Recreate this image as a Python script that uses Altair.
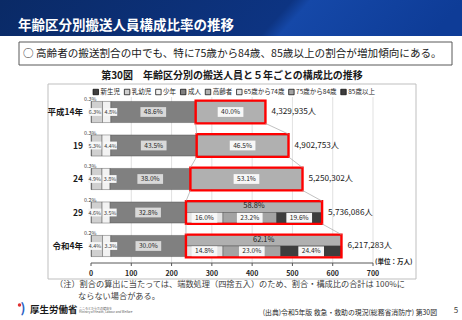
import altair as alt
import pandas as pd

# ---------------- data ----------------
years = ["平成14年", "19", "24", "29", "令和4年"]
totals = [4329935, 4902753, 5250302, 5736086, 6217283]          # 人
pct_neonate = [0.3, 0.3, 0.3, 0.2, 0.2]
pct_infant = [6.3, 5.3, 4.9, 4.6, 4.4]
pct_youth = [4.8, 4.4, 3.8, 3.5, 3.3]
pct_adult = [48.6, 43.5, 38.0, 32.8, 30.0]
pct_elderly = [40.0, 46.5, 53.1, 58.8, 62.1]
pct_65_74 = [None, None, None, 16.0, 14.8]
pct_75_84 = [None, None, None, 23.2, 23.0]
pct_85_up = [None, None, None, 19.6, 24.4]
x_ticks = [0, 100, 200, 300, 400, 500, 600, 700]
categories = ["新生児", "乳幼児", "少年", "成人", "高齢者", "65歳から74歳", "75歳から84歳", "85歳以上"]
cat_colors = ["#3f3f3f", "#d0d0d0", "#f2f2f2", "#808080", "#b0b0b0", "#e3e3e3", "#a3a3a3", "#3d3d3d"]

# ---------------- layout ----------------
FONT = "Noto Sans CJK JP"
xs = alt.Scale(domain=[0, 700], range=[91, 373], nice=False, zero=False)
ys = alt.Scale(domain=[0, 4], range=[112, 246], nice=False, zero=False)
cs = alt.Scale(domain=categories, range=cat_colors)
H = 0.315   # bar half height (row units)
HB = 0.34   # red frame half height

# legend laid out left to right from estimated label widths
LEG_FS = 6.5
LEG_X0, LEG_Y, LEG_SYM, LEG_GAP = 93, 92, 7.5, 4.3
def text_em(s):
    return sum(0.55 if c.isascii() else 1.0 for c in s)
legend_px = []
_x = LEG_X0
for c in categories:
    legend_px.append(_x)
    _x += LEG_SYM + text_em(c) * LEG_FS + LEG_GAP

seg_rows, lab_rows, tot_rows, red_rows = [], [], [], []
small_kinds = {"新生児": "tiny", "乳幼児": "small_l", "少年": "small_r", "成人": "adult"}
for i, yr in enumerate(years):
    tot = totals[i] / 10000
    parts = [("新生児", pct_neonate[i]), ("乳幼児", pct_infant[i]),
             ("少年", pct_youth[i]), ("成人", pct_adult[i])]
    cum = 0.0
    for cat, p in parts:
        x0 = tot * cum / 100
        x1 = tot * (cum + p) / 100
        seg_rows.append(dict(row=i, cat=cat, x=x0, x2=x1, y=i - H, y2=i + H))
        lab_rows.append(dict(row=i, cat=cat, kind=small_kinds[cat], xc=(x0 + x1) / 2,
                             yc=(i - H) if cat == "新生児" else i, text=f"{p:.1f}%"))
        cum += p
    es = tot * cum / 100
    red_rows.append(dict(row=i, x=es, x2=tot, y=i - HB, y2=i + HB))
    if pct_65_74[i] is not None:
        seg_rows.append(dict(row=i, cat="高齢者", x=es, x2=tot, y=i - H, y2=i))
        lab_rows.append(dict(row=i, cat="高齢者", kind="top", xc=(es + tot) / 2,
                             yc=i - H / 2, text=f"{pct_elderly[i]:.1f}%"))
        c2 = 0.0
        for cat, p in [("65歳から74歳", pct_65_74[i]), ("75歳から84歳", pct_75_84[i]),
                       ("85歳以上", pct_85_up[i])]:
            x0 = es + tot * c2 / 100
            x1 = es + tot * (c2 + p) / 100
            seg_rows.append(dict(row=i, cat=cat, x=x0, x2=x1, y=i, y2=i + H))
            lab_rows.append(dict(row=i, cat=cat, kind="sub", xc=(x0 + x1) / 2,
                                 yc=i + H / 2, text=f"{p:.1f}%"))
            c2 += p
    else:
        seg_rows.append(dict(row=i, cat="高齢者", x=es, x2=tot, y=i - H, y2=i + H))
        lab_rows.append(dict(row=i, cat="高齢者", kind="big", xc=(es + tot) / 2,
                             yc=i, text=f"{pct_elderly[i]:.1f}%"))
    tot_rows.append(dict(row=i, x=tot, text=f"{totals[i]:,}人"))

segs = pd.DataFrame(seg_rows)
labs = pd.DataFrame(lab_rows)
tots = pd.DataFrame(tot_rows)
reds = pd.DataFrame(red_rows)

con_rows = []
for i in range(len(years) - 1):
    a, b = red_rows[i], red_rows[i + 1]
    con_rows.append(dict(x=a["x"], x2=b["x"], y=i + HB, y2=i + 1 - HB))
    con_rows.append(dict(x=a["x2"], x2=b["x2"], y=i + HB, y2=i + 1 - HB))
cons = pd.DataFrame(con_rows)
ticks = pd.DataFrame({"t": x_ticks, "lab": [str(v) for v in x_ticks]})
grid = ticks[ticks.t > 0]
axis_span = pd.DataFrame({"a": [min(x_ticks)], "b": [max(x_ticks)]})
ylabs = pd.DataFrame({"row": list(range(len(years))), "yr": years})
leg = pd.DataFrame({"cat": categories, "px": legend_px})
one = pd.DataFrame({"a": [0]})
px_scale = alt.Scale(domain=[0, 462], range=[0, 462], nice=False, zero=False)

# ---------------- decorations ----------------
grad = alt.LinearGradient(
    gradient="linear", x1=0, y1=0, x2=1, y2=0.07,
    stops=[alt.GradientStop(color="#0a2a66", offset=0),
           alt.GradientStop(color="#0d3482", offset=0.63),
           alt.GradientStop(color="#1548a8", offset=0.67),
           alt.GradientStop(color="#0e3c97", offset=1)])
banner = alt.Chart(one).mark_rect(fill=grad).encode(
    x=alt.value(0), x2=alt.value(462), y=alt.value(0), y2=alt.value(36))
banner_txt = alt.Chart(one).mark_text(
    text="年齢区分別搬送人員構成比率の推移", align="left", baseline="middle",
    color="white", font=FONT, fontSize=13.5, fontWeight="bold").encode(
    x=alt.value(18), y=alt.value(26))
box = alt.Chart(one).mark_rect(fillOpacity=0, stroke="#595959", strokeWidth=1).encode(
    x=alt.value(19), x2=alt.value(452), y=alt.value(42), y2=alt.value(65))
box_txt = alt.Chart(one).mark_text(
    text="○ 高齢者の搬送割合の中でも、特に75歳から84歳、85歳以上の割合が増加傾向にある。",
    align="left", baseline="middle", color="#1a1a1a", font=FONT, fontSize=10.6).encode(
    x=alt.value(23), y=alt.value(53.5))
chart_title = alt.Chart(one).mark_text(
    text="第30図　年齢区分別の搬送人員と５年ごとの構成比の推移", align="center",
    baseline="middle", color="#1a1a1a", font=FONT, fontSize=10, fontWeight="bold").encode(
    x=alt.value(232), y=alt.value(75.5))
frame = alt.Chart(one).mark_rect(fillOpacity=0, stroke="#bfbfbf", strokeWidth=1).encode(
    x=alt.value(48), x2=alt.value(416), y=alt.value(84), y2=alt.value(279))

# manual legend
leg_sym = alt.Chart(leg).mark_square(size=30, opacity=1, stroke="#000000", strokeWidth=0.7).encode(
    x=alt.X("px:Q", scale=px_scale, axis=None), y=alt.value(LEG_Y),
    color=alt.Color("cat:N", scale=cs, legend=None), xOffset=alt.value(2.8))
leg_txt = alt.Chart(leg).mark_text(
    align="left", baseline="middle", font=FONT, fontSize=LEG_FS, color="#262626",
    dx=LEG_SYM).encode(
    x=alt.X("px:Q", scale=px_scale, axis=None), y=alt.value(LEG_Y), text="cat:N")

gridlines = alt.Chart(grid).mark_rule(color="#d9d9d9", strokeWidth=0.8).encode(
    x=alt.X("t:Q", scale=xs, axis=None), y=alt.value(97), y2=alt.value(263))
axis_line = alt.Chart(axis_span).mark_rule(color="#595959", strokeWidth=1).encode(
    x=alt.X("a:Q", scale=xs, axis=None), x2="b:Q", y=alt.value(263))
axis_ticks = alt.Chart(ticks).mark_rule(color="#595959", strokeWidth=1).encode(
    x=alt.X("t:Q", scale=xs, axis=None), y=alt.value(263), y2=alt.value(266))
axis_labs = alt.Chart(ticks).mark_text(
    font=FONT, fontSize=7, fontWeight="bold", color="#262626", baseline="middle").encode(
    x=alt.X("t:Q", scale=xs, axis=None), y=alt.value(274), text="lab:N")
unit_txt = alt.Chart(one).mark_text(
    text="(単位：万人)", align="left", baseline="middle", font=FONT, fontSize=6.5,
    fontWeight="bold", color="#262626").encode(x=alt.value(375), y=alt.value(262))

# ---------------- bars ----------------
bars = alt.Chart(segs).mark_rect(stroke="#404040", strokeWidth=0.4).encode(
    x=alt.X("x:Q", scale=xs, axis=None), x2="x2:Q",
    y=alt.Y("y:Q", scale=ys, axis=None), y2="y2:Q",
    color=alt.Color("cat:N", scale=cs, legend=None))
red_frames = alt.Chart(reds).mark_rect(fillOpacity=0, stroke="#ff0000", strokeWidth=2.4).encode(
    x=alt.X("x:Q", scale=xs, axis=None), x2="x2:Q",
    y=alt.Y("y:Q", scale=ys, axis=None), y2="y2:Q")
connectors = alt.Chart(cons).mark_rule(color="#a6a6a6", strokeWidth=0.7).encode(
    x=alt.X("x:Q", scale=xs, axis=None), x2="x2:Q",
    y=alt.Y("y:Q", scale=ys, axis=None), y2="y2:Q")

BIG_BOX = "M-1,-0.38H1V0.38H-1Z"
SMALL_BOX = "M-1,-0.6H1V0.6H-1Z"
big_lab = alt.Chart(labs).transform_filter(
    "datum.kind == 'adult' || datum.kind == 'big' || datum.kind == 'sub'")
big_boxes = big_lab.mark_point(shape=BIG_BOX, size=660, filled=True, opacity=1,
                               strokeWidth=0).encode(
    x=alt.X("xc:Q", scale=xs, axis=None), y=alt.Y("yc:Q", scale=ys, axis=None),
    color=alt.condition("datum.kind == 'adult'", alt.value("#d9d9d9"), alt.value("#f7f7f7")))
big_texts = big_lab.mark_text(font=FONT, fontSize=6.6, color="#262626", baseline="middle").encode(
    x=alt.X("xc:Q", scale=xs, axis=None), y=alt.Y("yc:Q", scale=ys, axis=None), text="text:N")

small_boxes_l = alt.Chart(labs).transform_filter("datum.kind == 'small_l'").mark_point(
    shape=SMALL_BOX, size=170, filled=True, opacity=1, strokeWidth=0, color="#f7f7f7",
    xOffset=-2).encode(x=alt.X("xc:Q", scale=xs, axis=None), y=alt.Y("yc:Q", scale=ys, axis=None))
small_texts_l = alt.Chart(labs).transform_filter("datum.kind == 'small_l'").mark_text(
    font=FONT, fontSize=5.4, color="#404040", baseline="middle", dx=-2).encode(
    x=alt.X("xc:Q", scale=xs, axis=None), y=alt.Y("yc:Q", scale=ys, axis=None), text="text:N")
small_boxes_r = alt.Chart(labs).transform_filter("datum.kind == 'small_r'").mark_point(
    shape=SMALL_BOX, size=170, filled=True, opacity=1, strokeWidth=0, color="#f7f7f7",
    xOffset=4).encode(x=alt.X("xc:Q", scale=xs, axis=None), y=alt.Y("yc:Q", scale=ys, axis=None))
small_texts_r = alt.Chart(labs).transform_filter("datum.kind == 'small_r'").mark_text(
    font=FONT, fontSize=5.4, color="#404040", baseline="middle", dx=4).encode(
    x=alt.X("xc:Q", scale=xs, axis=None), y=alt.Y("yc:Q", scale=ys, axis=None), text="text:N")
tiny_txt = alt.Chart(labs).transform_filter("datum.kind == 'tiny'").mark_text(
    font=FONT, fontSize=5.4, color="#404040", baseline="bottom", dx=-1, dy=1).encode(
    x=alt.X("xc:Q", scale=xs, axis=None), y=alt.Y("yc:Q", scale=ys, axis=None), text="text:N")
top_txt = alt.Chart(labs).transform_filter("datum.kind == 'top'").mark_text(
    font=FONT, fontSize=7.5, color="#1a1a1a", baseline="middle", dy=-1).encode(
    x=alt.X("xc:Q", scale=xs, axis=None), y=alt.Y("yc:Q", scale=ys, axis=None), text="text:N")
tot_txt = alt.Chart(tots).mark_text(
    font=FONT, fontSize=8.2, color="#1a1a1a", align="left", baseline="middle", dx=6).encode(
    x=alt.X("x:Q", scale=xs, axis=None), y=alt.Y("row:Q", scale=ys, axis=None), text="text:N")
year_txt = alt.Chart(ylabs).mark_text(
    font=FONT, fontSize=8.5, fontWeight="bold", color="#1a1a1a", align="right",
    baseline="middle").encode(
    x=alt.value(83), y=alt.Y("row:Q", scale=ys, axis=None), text="yr:N")

# ---------------- footer ----------------
note1 = alt.Chart(one).mark_text(
    text="（注）割合の算出に当たっては、端数処理（四捨五入）のため、割合・構成比の合計は 100%に",
    align="left", baseline="middle", font=FONT, fontSize=8.2, color="#404040").encode(
    x=alt.value(55), y=alt.value(284.5))
note2 = alt.Chart(one).mark_text(
    text="ならない場合がある。", align="left", baseline="middle", font=FONT, fontSize=8.2,
    color="#404040").encode(x=alt.value(78), y=alt.value(297))
logo_sym = alt.Chart(one).mark_text(
    text=")", align="center", baseline="middle", font=FONT, fontSize=13, fontWeight="bold",
    color="#2a62c4").encode(x=alt.value(23), y=alt.value(309))
logo_dot = alt.Chart(one).mark_point(filled=True, size=12, opacity=1, color="#e03030").encode(
    x=alt.value(19.5), y=alt.value(305))
logo_txt = alt.Chart(one).mark_text(
    text="厚生労働省", align="left", baseline="middle", font=FONT, fontSize=9.5,
    fontWeight="bold", color="#1a1a1a").encode(x=alt.value(30), y=alt.value(310))
logo_en1 = alt.Chart(one).mark_text(
    text="こころとからだの健康を", align="left", baseline="middle", font=FONT, fontSize=3,
    color="#595959").encode(x=alt.value(79), y=alt.value(308.5))
logo_en2 = alt.Chart(one).mark_text(
    text="Ministry of Health, Labour and Welfare", align="left", baseline="middle",
    font=FONT, fontSize=3, color="#595959").encode(x=alt.value(79), y=alt.value(312))
source_txt = alt.Chart(one).mark_text(
    text="(出典)令和5年版 救急・救助の現況(総務省消防庁) 第30図", align="right",
    baseline="middle", font=FONT, fontSize=6.85, color="#262626").encode(
    x=alt.value(437), y=alt.value(313))
page_txt = alt.Chart(one).mark_text(
    text="5", align="center", baseline="middle", font=FONT, fontSize=8, color="#404040").encode(
    x=alt.value(456), y=alt.value(311))

chart = alt.layer(
    banner, banner_txt, box, box_txt, chart_title, frame, leg_sym, leg_txt,
    gridlines, bars, red_frames, connectors,
    big_boxes, big_texts, small_boxes_l, small_texts_l, small_boxes_r, small_texts_r,
    tiny_txt, top_txt, tot_txt, year_txt, axis_line, axis_ticks, axis_labs, unit_txt,
    note1, note2, logo_sym, logo_dot, logo_txt, logo_en1, logo_en2, source_txt, page_txt,
).properties(width=462, height=320, padding=0, autosize="none", background="white"
).resolve_scale(x="independent"
).configure_view(strokeWidth=0)

chart.save("out.html", embed_options={"renderer": "svg", "actions": False})
